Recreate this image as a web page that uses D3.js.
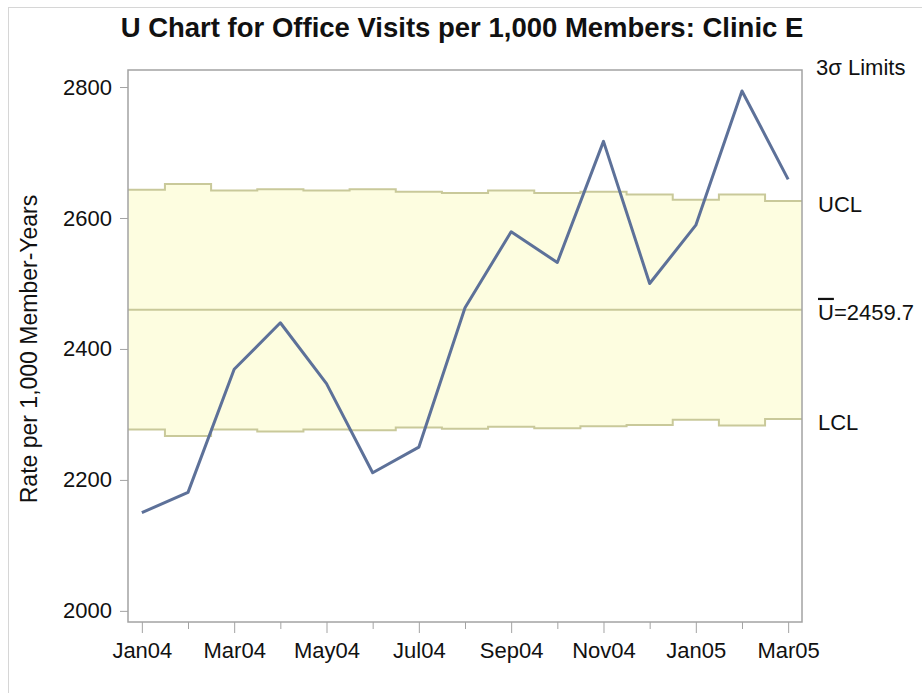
<!DOCTYPE html>
<html>
<head>
<meta charset="utf-8">
<script src="https://cdn.jsdelivr.net/npm/d3@7"></script>
<style>
  body { margin: 0; background: #fff; }
  text { font-family: "Liberation Sans", Arial, sans-serif; fill: #111; }
</style>
</head>
<body>
<div id="chart"></div>
<script>
const months = ['Jan04', 'Feb04', 'Mar04', 'Apr04', 'May04', 'Jun04', 'Jul04', 'Aug04',
  'Sep04', 'Oct04', 'Nov04', 'Dec04', 'Jan05', 'Feb05', 'Mar05'];
const rates = [2150, 2181, 2369, 2440, 2347, 2211, 2250, 2463, 2579, 2532, 2717, 2500, 2589, 2794, 2659];
const ucl = [2643, 2652, 2642, 2644, 2642, 2644, 2640, 2638, 2642, 2638, 2640, 2636, 2628, 2636, 2626];
const lcl = [2277, 2267, 2277, 2274, 2277, 2276, 2280, 2278, 2281, 2279, 2282, 2284, 2292, 2283, 2293];
const center = 2459.7;
const yTicks = [2000, 2200, 2400, 2600, 2800];
const xTickLabels = ['Jan04', 'Mar04', 'May04', 'Jul04', 'Sep04', 'Nov04', 'Jan05', 'Mar05'];

const W = 922, H = 693;
const plot = { left: 128, right: 802, top: 70, bottom: 622 };

const COLORS = {
  band: '#fdfde0',
  limit: '#c9c99a',
  series: '#5d7199',
  frame: '#a3a3a3'
};

const svg = d3.select('#chart').append('svg')
  .attr('width', W)
  .attr('height', H);

// outer border
svg.append('rect')
  .attr('x', 8.5).attr('y', 7.5)
  .attr('width', W).attr('height', H)
  .attr('fill', 'none')
  .attr('stroke', '#d6d6d6');

var x = d3.scalePoint()
  .domain(months)
  .range([plot.left, plot.right])
  .padding(0.3);
var y = d3.scaleLinear()
  .domain([1983, 2826])
  .range([plot.bottom, plot.top]);

// step limits, extended to the frame edges
let limits = months.map((m, i) => ({ x: x(m), u: ucl[i], l: lcl[i] }));
limits.unshift({ x: plot.left, u: ucl[0], l: lcl[0] });
limits.push({ x: plot.right, u: ucl[ucl.length - 1], l: lcl[lcl.length - 1] });

svg.append('path')
  .datum(limits)
  .attr('fill', COLORS.band)
  .attr('d', d3.area().curve(d3.curveStep).x(d => d.x).y0(d => y(d.l)).y1(d => y(d.u)));

for (let key of ['u', 'l']) {
  svg.append('path')
    .datum(limits)
    .attr('fill', 'none')
    .attr('stroke', COLORS.limit)
    .attr('stroke-width', 2)
    .attr('d', d3.line().curve(d3.curveStep).x(d => d.x).y(d => y(d[key])));
}

// center line
svg.append('line')
  .attr('x1', plot.left).attr('x2', plot.right)
  .attr('y1', y(center)).attr('y2', y(center))
  .attr('stroke', COLORS.limit)
  .attr('stroke-width', 2);

// series
svg.append('path')
  .datum(rates)
  .attr('fill', 'none')
  .attr('stroke', COLORS.series)
  .attr('stroke-width', 3)
  .attr('stroke-linejoin', 'round')
  .attr('d', d3.line().x((d, i) => x(months[i])).y(d => y(d)));

// frame
svg.append('rect')
  .attr('x', plot.left).attr('y', plot.top)
  .attr('width', plot.right - plot.left)
  .attr('height', plot.bottom - plot.top)
  .attr('fill', 'none')
  .attr('stroke', COLORS.frame)
  .attr('stroke-width', 1.5);

// y axis
let yAxis = svg.append('g')
  .attr('transform', `translate(${plot.left},0)`)
  .call(d3.axisLeft(y).tickValues(yTicks).tickFormat(d3.format('d')).tickSize(8).tickPadding(8));
yAxis.select('.domain').remove();
yAxis.selectAll('line').attr('stroke', COLORS.frame);
yAxis.selectAll('text')
  .attr('font-size', 22)
  .attr('font-family', '"Liberation Sans", Arial, sans-serif')
  .attr('fill', '#111');

// x axis: labels every other month, minor ticks between
let xAxis = svg.append('g')
  .attr('transform', `translate(0,${plot.bottom})`)
  .call(d3.axisBottom(x).tickSize(11).tickPadding(9)
    .tickFormat(d => xTickLabels.includes(d) ? d : ''));
xAxis.select('.domain').remove();
xAxis.selectAll('line')
  .attr('stroke', COLORS.frame)
  .attr('y2', d => xTickLabels.includes(d) ? 11 : 7);
xAxis.selectAll('text')
  .attr('font-size', 22)
  .attr('font-family', '"Liberation Sans", Arial, sans-serif')
  .attr('fill', '#111');

// y axis title
svg.append('text')
  .attr('transform', `translate(37,${(plot.top + plot.bottom) / 2 + 3}) rotate(-90)`)
  .attr('text-anchor', 'middle')
  .attr('font-size', 23)
  .text('Rate per 1,000 Member-Years');

// title
svg.append('text')
  .attr('x', 462).attr('y', 37)
  .attr('text-anchor', 'middle')
  .attr('font-size', 27.5)
  .attr('font-weight', 'bold')
  .text('U Chart for Office Visits per 1,000 Members: Clinic E');

// limit labels
const lx = plot.right + 16;
svg.append('text')
  .attr('x', plot.right + 14).attr('y', 75)
  .attr('font-size', 22)
  .text('3σ Limits');
svg.append('text')
  .attr('x', lx).attr('y', y(ucl[ucl.length - 1]) + 11)
  .attr('font-size', 22)
  .text('UCL');
let cl = svg.append('text')
  .attr('x', lx).attr('y', y(center) + 10)
  .attr('font-size', 22);
cl.append('tspan').style('text-decoration', 'overline').text('U');
cl.append('tspan').text('=' + center.toFixed(1));
svg.append('text')
  .attr('x', lx).attr('y', y(lcl[lcl.length - 1]) + 11)
  .attr('font-size', 22)
  .text('LCL');
</script>
</body>
</html>
